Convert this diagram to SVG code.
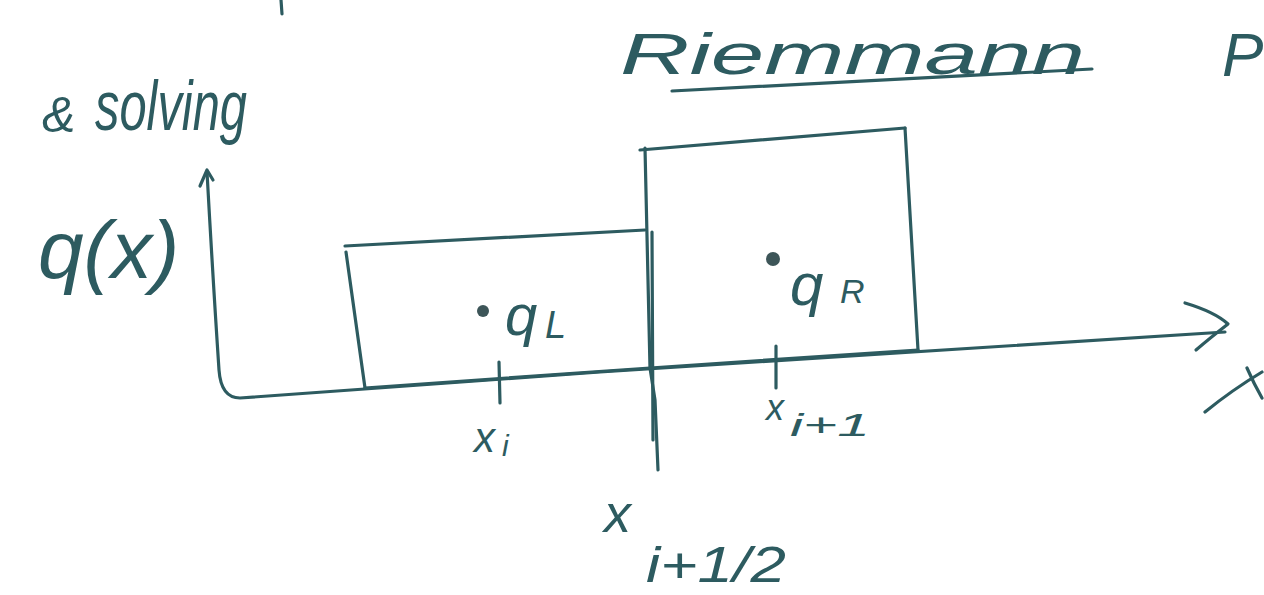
<svg xmlns="http://www.w3.org/2000/svg" width="1264" height="595" viewBox="0 0 1264 595">
<style>
.ln{fill:none;stroke:#2d5b60;stroke-width:3.2;stroke-linecap:round;stroke-linejoin:round}
.tx{fill:#2d5b60;font-family:"Liberation Sans",Arial,sans-serif;font-style:italic}
.dot{fill:#3d5558}
</style>
<rect width="1264" height="595" fill="#ffffff"/>
<g id="title">
<path class="ln" d="M281,0 L282,14"/>
<text class="tx" x="42" y="132" font-size="50">&amp;</text>
<text class="tx" x="95" y="130" font-size="70" textLength="152" lengthAdjust="spacingAndGlyphs">solving</text>
<text class="tx" x="620" y="74" font-size="58" textLength="465" lengthAdjust="spacingAndGlyphs">Riemmann</text>
<path class="ln" d="M672,91 Q880,80 1092,69"/>
<text class="tx" x="1222" y="76" font-size="62">P</text>
</g>
<g id="connectors">
<path class="ln" d="M207,172 Q213,280 219,370 Q221,398 240,398 L600,372 L1225,332"/>
<path class="ln" d="M200,186 L207,170 L213,180"/>
<path class="ln" d="M1185,303 Q1215,312 1228,324 Q1210,338 1196,350"/>
</g>
<g id="y-label"><text class="tx" x="38" y="278" font-size="82">q(x)</text></g>
<g id="x-label"><path class="ln" d="M1205,412 Q1232,390 1262,372"/><path class="ln" d="M1247,368 Q1254,384 1262,398"/></g>
<g id="left-cell">
<path class="ln" d="M345,246 L645,230"/>
<path class="ln" d="M346,252 L365,388"/>
<path class="ln" d="M365,388 L650,368"/>
<circle class="dot" cx="483" cy="311" r="6"/>
<text class="tx" x="505" y="335" font-size="58">q</text>
<text class="tx" x="545" y="338" font-size="38">L</text>
<path class="ln" d="M499,362 L500,403"/>
<text class="tx" x="474" y="452" font-size="42">x</text>
<text class="tx" x="502" y="456" font-size="30">i</text>
</g>
<g id="interface">
<path class="ln" d="M645,148 L650,368 L655,400 L658,470"/>
<path class="ln" d="M652,232 L653,440"/>
<text class="tx" x="604" y="532" font-size="54">x</text>
<text class="tx" x="646" y="582" font-size="50" textLength="140" lengthAdjust="spacingAndGlyphs">i+1/2</text>
</g>
<g id="right-cell">
<path class="ln" d="M640,150 L905,128"/>
<path class="ln" d="M905,128 L918,350"/>
<path class="ln" d="M650,368 L918,350"/>
<circle class="dot" cx="773" cy="259" r="7"/>
<text class="tx" x="790" y="305" font-size="60">q</text>
<text class="tx" x="840" y="303" font-size="34">R</text>
<path class="ln" d="M776,346 L776,388"/>
<text class="tx" x="766" y="420" font-size="36">x</text>
<text class="tx" x="790" y="436" font-size="32" textLength="80" lengthAdjust="spacingAndGlyphs">i+1</text>
</g>
</svg>
